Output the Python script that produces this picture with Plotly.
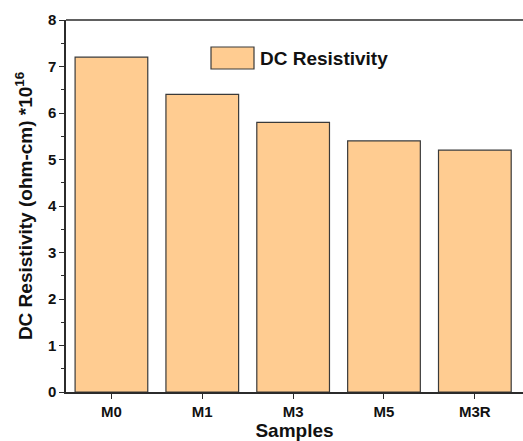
import plotly.graph_objects as go

samples = ["M0", "M1", "M3", "M5", "M3R"]
resistivity = [7.2, 6.4, 5.8, 5.4, 5.2]
series_name = "DC Resistivity"

FONT = "Liberation Sans, Arial, sans-serif"
AX = "#2b2b2b"

fig = go.Figure()
fig.add_trace(go.Bar(
    x=samples, y=resistivity, name=series_name,
    marker=dict(color="#FFCC91", line=dict(color="#3a3a3a", width=1.2)),
    width=0.8, showlegend=False,
))

fig.update_layout(
    width=523, height=441,
    margin=dict(l=66, r=0, t=20, b=49),
    paper_bgcolor="white", plot_bgcolor="white",
    font=dict(family=FONT, color="#111"),
    xaxis=dict(
        range=[-0.5, 4.53], showline=True, linecolor=AX, linewidth=1.5, mirror=False,
        ticks="outside", ticklen=5, tickwidth=1.2, tickcolor=AX,
        tickfont=dict(size=15, weight="bold", family=FONT),
        minor=dict(ticks="outside", ticklen=3, tickcolor=AX, dtick=1, tick0=-0.5, showgrid=False),
        title=dict(text="Samples", font=dict(size=19, weight="bold", family=FONT), standoff=2),
        showgrid=False, zeroline=False,
    ),
    yaxis=dict(
        range=[0, 8], dtick=1, showline=True, linecolor=AX, linewidth=1.5, mirror=False,
        ticks="outside", ticklen=5, tickwidth=1.2, tickcolor=AX,
        tickfont=dict(size=15, weight="bold", family=FONT),
        minor=dict(ticks="outside", ticklen=3, tickcolor=AX, dtick=0.5, showgrid=False),
        title=dict(text="DC Resistivity (ohm-cm) *10<sup>16</sup>",
                   font=dict(size=19, weight="bold", family=FONT), standoff=10),
        showgrid=False, zeroline=False,
    ),
)

# top frame line
fig.add_shape(type="line", xref="paper", yref="paper", x0=0, x1=1.02, y0=1, y1=1,
              line=dict(color=AX, width=1.5))

# legend drawn as swatch + label
fig.add_shape(type="rect", xref="paper", yref="paper",
              x0=(211 - 66) / 457, x1=(254 - 66) / 457,
              y0=(392 - 69) / 372, y1=(392 - 47) / 372,
              fillcolor="#FFCC91", line=dict(color="#3a3a3a", width=1.2))
fig.add_annotation(xref="paper", yref="paper", x=(258 - 66) / 457, y=(392 - 58) / 372,
                   text=series_name, showarrow=False, xanchor="left", yanchor="middle",
                   font=dict(size=19, weight="bold", family=FONT, color="#111"))

fig.write_html("out.html")
